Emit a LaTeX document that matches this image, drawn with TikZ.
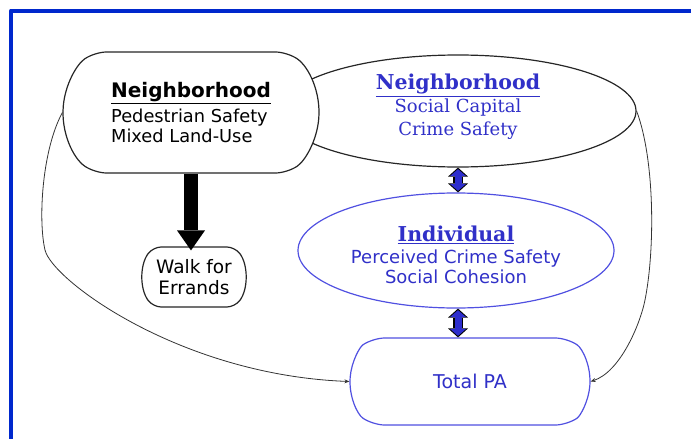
\documentclass[tikz,border=0pt]{standalone}
\usepackage{fontspec}
\setmainfont{DejaVu Sans}
\newfontfamily\serifface{DejaVu Serif}
\usetikzlibrary{shapes.misc,shapes.geometric,arrows.meta}
\definecolor{framecol}{RGB}{0,40,205}
\definecolor{inkblue}{RGB}{48,48,200}
\definecolor{lineblue}{RGB}{80,80,225}
\definecolor{fillblue}{RGB}{45,45,205}
\begin{document}
\begin{tikzpicture}[x=1pt,y=-1pt,line join=round,
		bigbox/.style={rounded rectangle,rounded rectangle arc length=110,rounded corners=12pt,line width=1.2pt,fill=white,inner sep=0pt},
		oval/.style={ellipse,line width=1.2pt,inner sep=0pt,align=center},
		twoway/.style={line width=10pt,draw=black,{Triangle[length=9pt,width=20pt,line width=0pt]}-{Triangle[length=9pt,width=20pt,line width=0pt]},
			postaction={draw=fillblue,line width=7pt,{Triangle[length=7pt,width=16pt,line width=0pt]}-{Triangle[length=7pt,width=16pt,line width=0pt]},shorten <=1.5pt,shorten >=1.5pt}},
		heavy/.style={line width=14pt,-{Triangle[length=20pt,width=28pt,line width=0pt]}},
		link/.style={line width=.8pt,black!80,-{Stealth[length=5pt,width=4pt]}}]
	\useasboundingbox (0,0) rectangle (691,439);
	\draw[framecol,line width=4pt] (691,10.5) -| (11,439);
	\node[oval,draw=black!85,minimum width=356pt,minimum height=112pt,text=inkblue,font=\serifface\fontsize{18}{23}\selectfont] (nbhdell) at (458,111)
		{{\bfseries\fontsize{20.5}{23}\selectfont\underline{Neighborhood}}\\
		Social Capital\\
		Crime Safety\rule[-12pt]{0pt}{12pt}};
	\node[bigbox,draw=black!85,minimum width=256pt,minimum height=121pt,align=left,font=\fontsize{17.8}{20}\selectfont] (nbhdbox) at (191,112.5)
		{{\bfseries\fontsize{20}{23}\selectfont\underline{Neighborhood}}\\[5pt]
		Pedestrian Safety\\
		Mixed Land-Use};
	\node[bigbox,rounded rectangle arc length=75,rounded corners=8pt,draw=black!85,minimum width=102pt,minimum height=60pt,align=center,font=\fontsize{18.5}{21}\selectfont] (walkbox) at (194,277)
		{Walk for\\ Errands};
	\node[oval,draw=lineblue,minimum width=316pt,minimum height=115pt,text=inkblue,font=\fontsize{18}{20}\selectfont] (indivell) at (456,250.5)
		{\rule{0pt}{25pt}{\serifface\bfseries\fontsize{20.5}{23}\selectfont\underline{Individual}}\\[2pt]
		Perceived Crime Safety\\
		Social Cohesion};
	\node[bigbox,draw=lineblue,minimum width=240pt,minimum height=87pt,text=inkblue,font=\fontsize{19}{21}\selectfont] (pabox) at (470,381.5)
		{Total PA};
	\draw[heavy] (nbhdbox.south) -- ([yshift=-4pt]nbhdbox.south |- walkbox.north);
	\draw[twoway] (nbhdell.south) -- (nbhdell.south |- indivell.north);
	\draw[twoway] (indivell.south -| nbhdell.south) -- (nbhdell.south |- pabox.north);
	\draw[link] (nbhdbox.west) .. controls (42,150) and (38,220) .. (45,250) .. controls (52,280) and (180,375) .. (pabox.west);
	\draw[link] (nbhdell.east) .. controls (655,160) and (655,250) .. (645,300) .. controls (640,325) and (620,372) .. (pabox.east);
\end{tikzpicture}
\end{document}
